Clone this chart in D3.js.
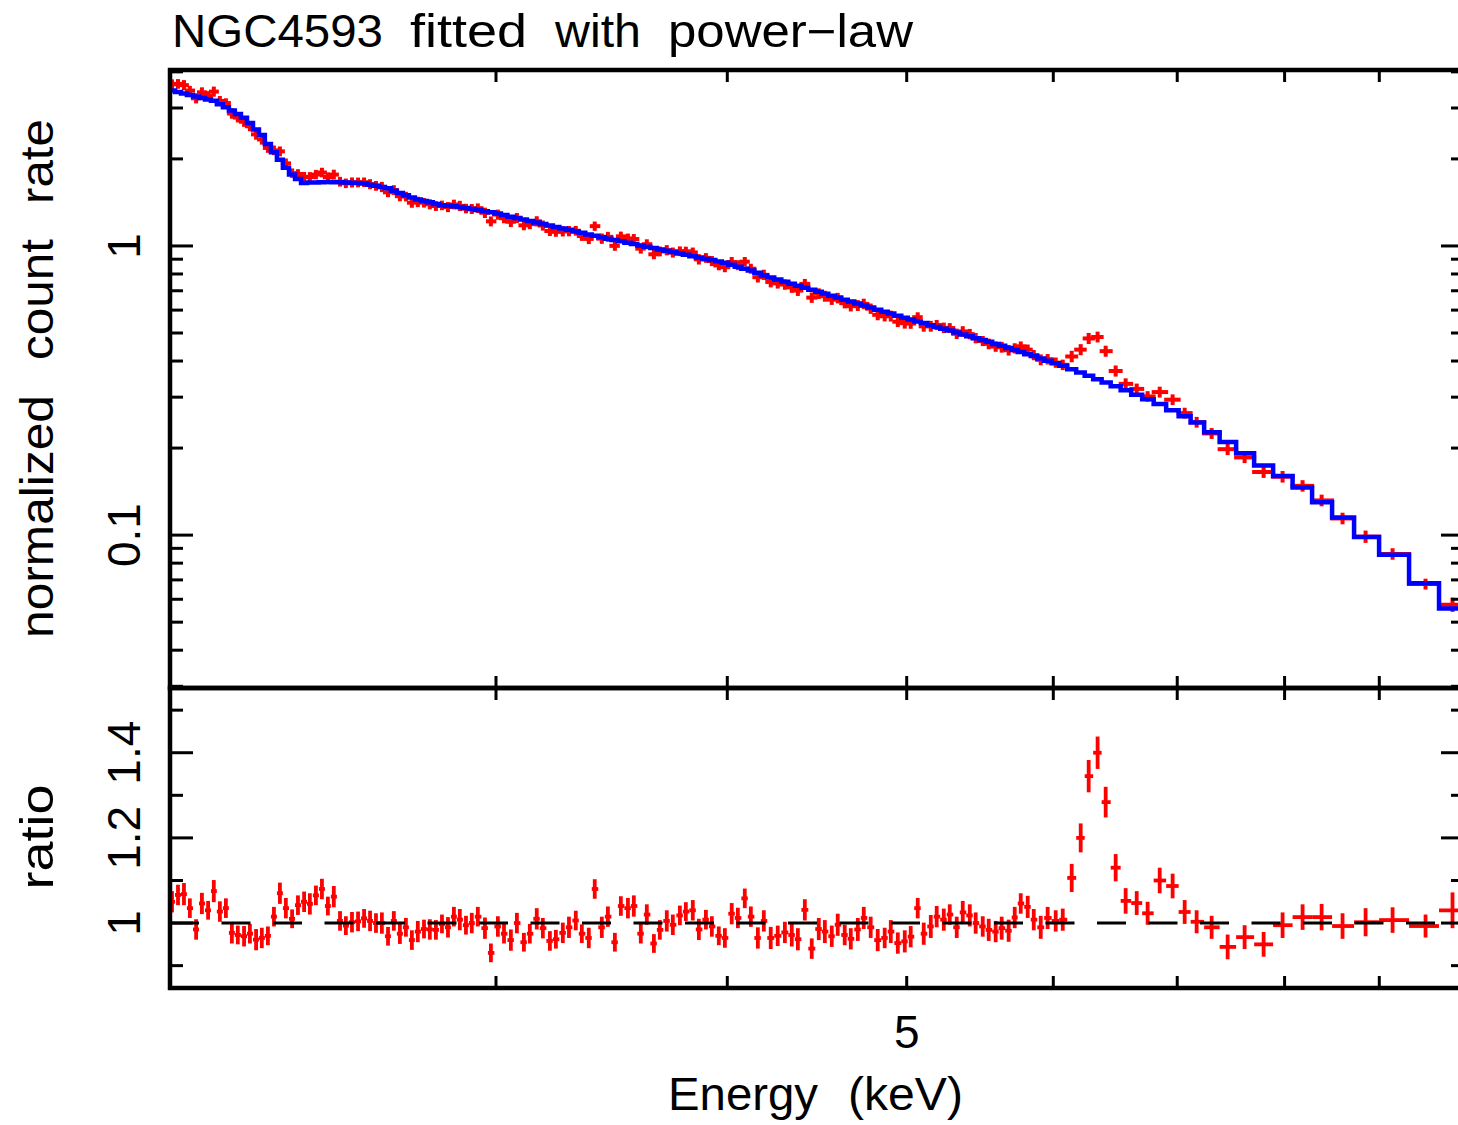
<!DOCTYPE html>
<html>
<head>
<meta charset="utf-8">
<script src="https://cdn.jsdelivr.net/npm/d3@7"></script>
<style>
  body { margin: 0; background: #fff; }
  svg { display: block; }
  text { font-family: "Liberation Sans", Arial, sans-serif; fill: #000; }
</style>
</head>
<body>
<svg id="chart" width="1458" height="1125"></svg>
<script>
// Spectrum of NGC4593 (2-10 keV), grouped channels.
// Bin centre energies (keV)
const energy = [
  2.005, 2.020, 2.035, 2.050, 2.066, 2.081, 2.097, 2.112, 2.128, 2.144,
  2.160, 2.176, 2.193, 2.209, 2.226, 2.242, 2.259, 2.276, 2.293, 2.310,
  2.328, 2.345, 2.363, 2.380, 2.398, 2.416, 2.434, 2.452, 2.471, 2.489,
  2.508, 2.527, 2.546, 2.565, 2.584, 2.603, 2.623, 2.642, 2.662, 2.682,
  2.702, 2.722, 2.743, 2.763, 2.784, 2.805, 2.826, 2.847, 2.868, 2.890,
  2.911, 2.933, 2.959, 2.981, 3.007, 3.030, 3.056, 3.079, 3.106, 3.129,
  3.156, 3.180, 3.208, 3.232, 3.260, 3.285, 3.313, 3.338, 3.367, 3.392,
  3.422, 3.448, 3.478, 3.504, 3.535, 3.561, 3.592, 3.619, 3.651, 3.678,
  3.710, 3.738, 3.771, 3.799, 3.832, 3.861, 3.895, 3.924, 3.958, 3.988,
  4.022, 4.053, 4.088, 4.119, 4.155,
  4.186, 4.222, 4.259, 4.297, 4.334, 4.367, 4.405, 4.443, 4.482, 4.516,
  4.555, 4.589, 4.629, 4.664, 4.705, 4.740, 4.781, 4.823, 4.865, 4.902,
  4.945, 4.988, 5.025, 5.069, 5.107, 5.152, 5.190, 5.236, 5.275, 5.321,
  5.361, 5.408, 5.448, 5.496, 5.537, 5.585, 5.627, 5.676, 5.719, 5.762,
  5.812, 5.856, 5.907, 5.958, 6.018, 6.071,
  6.139, 6.208, 6.270, 6.340, 6.404, 6.484, 6.565, 6.656, 6.747, 6.849,
  6.960, 7.065, 7.171, 7.306, 7.453, 7.612, 7.794, 7.980, 8.181, 8.377,
  8.598, 8.848, 9.150, 9.533, 9.858
];

// data / model ratio per bin
const ratio = [
  1.050, 1.066, 1.068, 1.035, 0.985, 1.046, 1.030, 1.075, 1.027, 1.035,
  0.977, 0.972, 0.969, 0.975, 0.961, 0.965, 0.970, 1.015, 1.070, 1.035,
  1.010, 1.042, 1.050, 1.045, 1.065, 1.080, 1.040, 1.062, 1.005, 0.994,
  1.002, 1.004, 1.011, 1.005, 1.000, 1.000, 0.969, 1.005, 0.975, 0.990,
  0.960, 0.980, 0.986, 0.985, 0.984, 0.998, 0.990, 1.015, 1.008, 0.995,
  1.000, 1.015, 0.988, 0.930, 0.992, 0.975, 0.960, 1.000, 0.955, 0.975,
  1.010, 0.988, 0.958, 0.962, 0.977, 0.990, 1.006, 0.975, 0.965, 1.080,
  0.990, 1.015, 0.955, 1.040, 1.035, 1.040, 0.975, 1.020, 0.952, 0.984,
  1.005, 0.996, 1.018, 1.027, 1.030, 0.985, 1.008, 0.992, 0.970, 0.965,
  1.022, 1.012, 1.058, 1.015, 0.965,
  1.005, 0.965, 0.970, 0.978, 0.972, 0.962, 1.031, 0.940, 0.986, 0.980,
  0.969, 0.996, 0.972, 0.963, 0.985, 1.012, 0.990, 0.960, 0.965, 0.980,
  0.953, 0.957, 0.968, 1.035, 0.975, 0.992, 1.015, 1.008, 1.020, 0.990,
  1.025, 1.018, 1.000, 0.992, 0.984, 0.980, 0.988, 0.982, 1.013, 1.046,
  1.038, 1.008, 0.990, 1.012, 1.005, 1.008,
  1.106, 1.200, 1.345, 1.400, 1.284, 1.130, 1.052, 1.047, 1.023, 1.100,
  1.087, 1.026, 1.003, 0.990, 0.944, 0.967, 0.950, 0.995, 1.014, 1.014,
  0.993, 1.002, 1.007, 0.993, 1.030
];

// 1-sigma error on the ratio
const ratioErr = [
  0.025, 0.024, 0.026, 0.023, 0.024, 0.025, 0.022, 0.026, 0.024, 0.023,
  0.025, 0.022, 0.024, 0.023, 0.025, 0.024, 0.022, 0.023, 0.025, 0.024,
  0.022, 0.023, 0.024, 0.025, 0.023, 0.024, 0.022, 0.025, 0.023, 0.022,
  0.024, 0.023, 0.022, 0.024, 0.023, 0.025, 0.022, 0.023, 0.024, 0.022,
  0.023, 0.025, 0.022, 0.024, 0.023, 0.022, 0.024, 0.023, 0.025, 0.022,
  0.024, 0.023, 0.025, 0.022, 0.024, 0.023, 0.025, 0.024, 0.022, 0.023,
  0.025, 0.024, 0.023, 0.022, 0.024, 0.025, 0.023, 0.022, 0.024, 0.023,
  0.025, 0.024, 0.022, 0.023, 0.024, 0.025, 0.023, 0.024, 0.022, 0.023,
  0.025, 0.024, 0.023, 0.022, 0.024, 0.025, 0.023, 0.024, 0.022, 0.023,
  0.025, 0.024, 0.023, 0.024, 0.025,
  0.025, 0.026, 0.024, 0.025, 0.027, 0.026, 0.025, 0.024, 0.026, 0.027,
  0.025, 0.026, 0.024, 0.025, 0.027, 0.026, 0.025, 0.026, 0.024, 0.027,
  0.025, 0.026, 0.025, 0.024, 0.026, 0.027, 0.025, 0.026, 0.024, 0.025,
  0.027, 0.026, 0.025, 0.024, 0.026, 0.025, 0.027, 0.026, 0.025, 0.024,
  0.026, 0.025, 0.027, 0.026, 0.025, 0.026,
  0.033, 0.034, 0.038, 0.038, 0.036, 0.032, 0.030, 0.028, 0.027, 0.030,
  0.029, 0.028, 0.027, 0.027, 0.029, 0.028, 0.029, 0.030, 0.030, 0.031,
  0.030, 0.033, 0.030, 0.027, 0.042
];

// power-law model folded through the response (normalized counts/s/keV)
const model = [
  3.450, 3.410, 3.370, 3.330, 3.290, 3.250, 3.210, 3.180, 3.090, 3.015,
  2.940, 2.860, 2.775, 2.660, 2.530, 2.420, 2.250, 2.110, 1.985, 1.865,
  1.768, 1.703, 1.652, 1.656, 1.658, 1.662, 1.665, 1.662, 1.660, 1.657,
  1.655, 1.652, 1.643, 1.628, 1.614, 1.600, 1.582, 1.553, 1.525, 1.497,
  1.470, 1.449, 1.431, 1.415, 1.397, 1.384, 1.377, 1.371, 1.365, 1.354,
  1.343, 1.331, 1.318, 1.308, 1.294, 1.279, 1.263, 1.250, 1.234, 1.220,
  1.205, 1.191, 1.176, 1.163, 1.150, 1.137, 1.122, 1.110, 1.096, 1.084,
  1.071, 1.060, 1.048, 1.038, 1.026, 1.016, 1.004, 0.994, 0.983, 0.973,
  0.962, 0.953, 0.942, 0.933, 0.922, 0.913, 0.902, 0.894, 0.883, 0.875,
  0.861, 0.848, 0.834, 0.822, 0.808,
  0.791, 0.778, 0.765, 0.752, 0.740, 0.729, 0.717, 0.705, 0.694, 0.684,
  0.673, 0.663, 0.652, 0.643, 0.632, 0.623, 0.613, 0.602, 0.592, 0.584,
  0.574, 0.565, 0.557, 0.548, 0.541, 0.532, 0.525, 0.517, 0.510, 0.502,
  0.494, 0.487, 0.480, 0.473, 0.466, 0.458, 0.452, 0.444, 0.437, 0.430,
  0.422, 0.416, 0.408, 0.401, 0.393, 0.385,
  0.375, 0.365, 0.356, 0.346, 0.337, 0.327, 0.317, 0.306, 0.295, 0.284,
  0.2705, 0.2575, 0.245, 0.227, 0.210, 0.192, 0.174, 0.160, 0.146, 0.130,
  0.115, 0.0986, 0.0855, 0.0682, 0.0558
];

// axis ticks and labels
const energyTicks = [3, 4, 5, 6, 7, 8, 9];
const energyLabels = [5];
const rateMajor = [0.1, 1];
const rateMinor = [0.03, 0.04, 0.05, 0.06, 0.07, 0.08, 0.09,
                   0.2, 0.3, 0.4, 0.5, 0.6, 0.7, 0.8, 0.9, 2, 3, 4];
const rateLabels = ["0.1", "1"];
const ratioMajor = [1, 1.2, 1.4];
const ratioMinor = [0.9, 1.1, 1.3, 1.5];
const ratioLabels = ["1", "1.2", "1.4"];

const titleWords = ["NGC4593", "fitted", "with", "power\u2212law"];
const xTitleWords = ["Energy", "(keV)"];
const yTopTitleWords = ["normalized", "count", "rate"];
const yBotTitle = "ratio";

// ---------------------------------------------------------------
const svg = d3.select("#chart");
const L = 170, R = 1464, T = 70, M = 688, B = 988;
const frameW = 4.5, tickW = 3;
const majLen = 23, minLen = 13, xTickLen = 12;

const x = d3.scaleLog().domain([2, 10]).range([L, R]);
const yTop = d3.scaleLog().domain([0.0296, 4.06]).range([M, T]);
const yBot = d3.scaleLinear().domain([0.8475, 1.552]).range([B, M]);

// bin edges: geometric midpoints between neighbouring centres
const n = energy.length;
const edges = [];
for (let i = 1; i < n; i++) edges.push(Math.sqrt(energy[i - 1] * energy[i]));
edges.unshift(energy[0] * energy[0] / edges[0]);
edges.push(energy[n - 1] * energy[n - 1] / edges[n - 2]);

const bins = energy.map((e, i) => ({
  e, lo: edges[i], hi: edges[i + 1],
  r: ratio[i], re: ratioErr[i], m: model[i],
  d: ratio[i] * model[i], de: ratioErr[i] * model[i]
}));

const defs = svg.append("defs");
defs.append("clipPath").attr("id", "clipTop")
  .append("rect").attr("x", L).attr("y", T).attr("width", R - L).attr("height", M - T);
defs.append("clipPath").attr("id", "clipBot")
  .append("rect").attr("x", L).attr("y", M).attr("width", R - L).attr("height", B - M);

const RED = "#ff0000", BLUE = "#0000ff";

// ---- upper panel: data crosses then model histogram
const gTop = svg.append("g").attr("clip-path", "url(#clipTop)");
const crossTop = gTop.append("g").attr("stroke", RED).attr("stroke-width", 4)
  .attr("stroke-linecap", "square");
crossTop.selectAll("line.h").data(bins).join("line").attr("class", "h")
  .attr("x1", d => x(d.lo)).attr("x2", d => x(d.hi))
  .attr("y1", d => yTop(d.d)).attr("y2", d => yTop(d.d));
crossTop.selectAll("line.v").data(bins).join("line").attr("class", "v")
  .attr("x1", d => x(d.e)).attr("x2", d => x(d.e))
  .attr("y1", d => yTop(d.d - d.de)).attr("y2", d => yTop(d.d + d.de));

const stepPts = bins.map(d => [x(d.lo), yTop(d.m)]);
stepPts.push([x(bins[n - 1].hi), yTop(bins[n - 1].m)]);
gTop.append("path")
  .attr("d", d3.line().curve(d3.curveStepAfter)(stepPts))
  .attr("fill", "none").attr("stroke", BLUE).attr("stroke-width", 4.5);

// ---- lower panel: data crosses and unity line
const gBot = svg.append("g").attr("clip-path", "url(#clipBot)");
const crossBot = gBot.append("g").attr("stroke", RED).attr("stroke-width", 3.8);
crossBot.selectAll("line.h").data(bins).join("line").attr("class", "h")
  .attr("x1", d => x(d.lo)).attr("x2", d => x(d.hi))
  .attr("y1", d => yBot(d.r)).attr("y2", d => yBot(d.r));
crossBot.selectAll("line.v").data(bins).join("line").attr("class", "v")
  .attr("x1", d => x(d.e)).attr("x2", d => x(d.e))
  .attr("y1", d => yBot(d.r - d.re)).attr("y2", d => yBot(d.r + d.re));

gBot.append("line")
  .attr("x1", L).attr("x2", R).attr("y1", yBot(1)).attr("y2", yBot(1))
  .attr("stroke", "#000").attr("stroke-width", 3)
  .attr("stroke-dasharray", "29,22.5");

// ---- frames
const frame = svg.append("g").attr("fill", "none").attr("stroke", "#000")
  .attr("stroke-width", frameW);
frame.append("rect").attr("x", L).attr("y", T).attr("width", R - L).attr("height", M - T);
frame.append("rect").attr("x", L).attr("y", M).attr("width", R - L).attr("height", B - M);

// ---- ticks
const ticks = svg.append("g").attr("stroke", "#000").attr("stroke-width", tickW);
function hTicks(vals, scale, len) {
  vals.forEach(v => {
    const yy = scale(v);
    ticks.append("line").attr("x1", L).attr("x2", L + len).attr("y1", yy).attr("y2", yy);
    ticks.append("line").attr("x1", R).attr("x2", R - len).attr("y1", yy).attr("y2", yy);
  });
}
hTicks(rateMajor, yTop, majLen);
hTicks(rateMinor, yTop, minLen);
hTicks(ratioMajor, yBot, majLen);
hTicks(ratioMinor, yBot, minLen);

energyTicks.forEach(e => {
  const xx = x(e);
  ticks.append("line").attr("x1", xx).attr("x2", xx).attr("y1", T).attr("y2", T + xTickLen);
  ticks.append("line").attr("x1", xx).attr("x2", xx).attr("y1", M - xTickLen).attr("y2", M + xTickLen);
  ticks.append("line").attr("x1", xx).attr("x2", xx).attr("y1", B).attr("y2", B - xTickLen);
});

// ---- labels
const FS = 46;
energyLabels.forEach(e => {
  svg.append("text").attr("x", x(e)).attr("y", 1048)
    .attr("text-anchor", "middle").attr("font-size", FS).text(String(e));
});

function vLabel(txt, px, py, len) {
  const t = svg.append("text")
    .attr("transform", `translate(${px},${py}) rotate(-90)`)
    .attr("text-anchor", "middle").attr("font-size", FS).text(txt);
  if (len) t.attr("textLength", len).attr("lengthAdjust", "spacingAndGlyphs");
  return t;
}
rateMajor.forEach((v, i) => vLabel(rateLabels[i], 140, yTop(v)));
ratioMajor.forEach((v, i) => vLabel(ratioLabels[i], 140, yBot(v)));
vLabel(yBotTitle, 53, 837, 105);

// words laid out individually so the wide inter-word gaps are kept
function wordRow(parent, words, xs, lens, y) {
  const t = parent.append("text").attr("y", y).attr("font-size", FS);
  words.forEach((w, i) => {
    t.append("tspan").attr("x", xs[i]).attr("textLength", lens[i])
      .attr("lengthAdjust", "spacingAndGlyphs").text(w);
  });
}
wordRow(svg, titleWords, [172, 410, 555, 668], [211, 117, 86, 245], 47);
wordRow(svg, xTitleWords, [668, 848], [150, 115], 1110);
// vertical axis title: local x runs upward (x_local = -y_screen)
const yTitleG = svg.append("g").attr("transform", "translate(53,0) rotate(-90)");
wordRow(yTitleG, yTopTitleWords, [-638, -360, -204], [243, 121, 85], 0);
</script>
</body>
</html>
